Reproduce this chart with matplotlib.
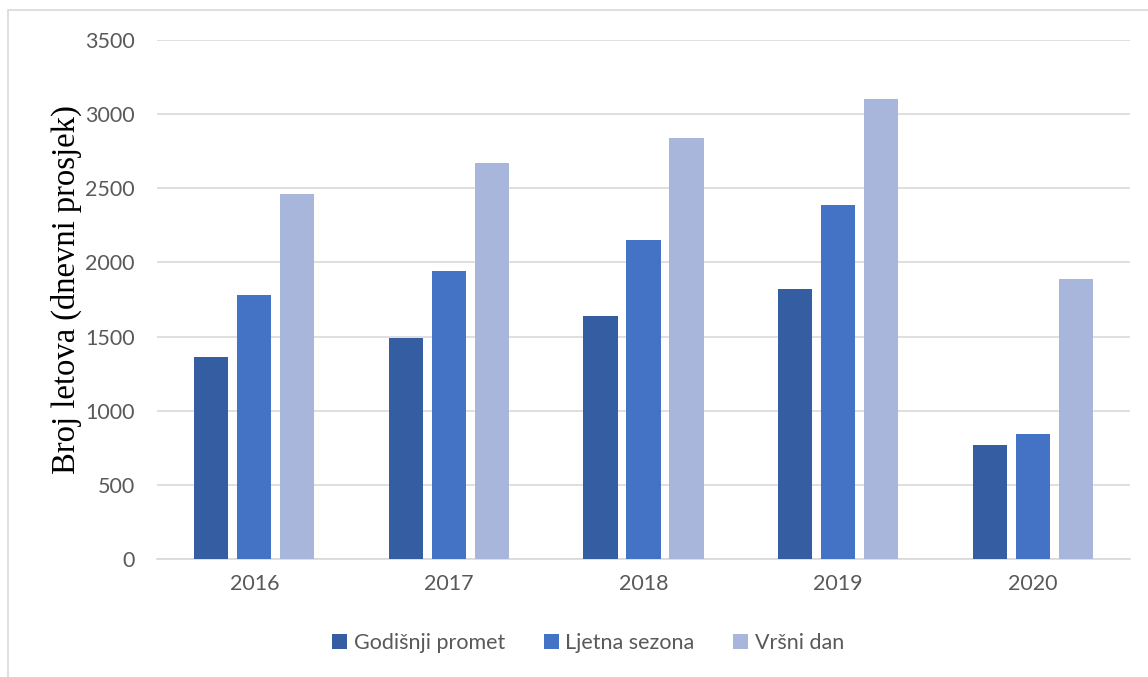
import matplotlib
matplotlib.use("Agg")
import matplotlib.pyplot as plt
import numpy as np
from matplotlib.patches import Rectangle

years = ["2016", "2017", "2018", "2019", "2020"]
godisnji = [1360, 1490, 1640, 1820, 770]
ljetna = [1780, 1940, 2150, 2385, 840]
vrsni = [2460, 2670, 2840, 3100, 1890]
series_names = ["Godišnji promet", "Ljetna sezona", "Vršni dan"]
colors = ["#355DA1", "#4472C4", "#A8B6DB"]

W, H = 1148, 677
fig = plt.figure(figsize=(W/100, H/100), dpi=100)
ax = fig.add_axes([157/W, 1-559/H, (1130-157)/W, (559-40)/H])

x = np.arange(len(years))
bw = 0.175
step = 0.221
for i, (vals, c, n) in enumerate(zip([godisnji, ljetna, vrsni], colors, series_names)):
    ax.bar(x + (i-1)*step, vals, width=bw, color=c, label=n, zorder=3)

ax.set_xlim(-0.5, len(years)-0.5)
ax.set_ylim(0, 3500)
ax.set_yticks(np.arange(0, 3501, 500))
ax.grid(axis='y', color='#D9D9D9', linewidth=1.2, zorder=0)
for s in ['top', 'right', 'left']:
    ax.spines[s].set_visible(False)
ax.spines['bottom'].set_color('#D9D9D9')
ax.spines['bottom'].set_linewidth(1.2)
ax.tick_params(axis='both', length=0, labelsize=15.5, labelcolor='#595959')
ax.tick_params(axis='y', pad=16)
ax.tick_params(axis='x', pad=11)
ax.set_xticks(x)
ax.set_xticklabels(years)
for lab in ax.get_xticklabels() + ax.get_yticklabels():
    lab.set_family('Lato')

fig.text(66/W, 1-290/H, "Broj letova (dnevni prosjek)", rotation=90, va='center', ha='center',
         family='Liberation Serif', fontsize=23.5, color='black')

leg = fig.legend(loc='center', bbox_to_anchor=(588/W, 1-643/H), ncol=3, frameon=False,
                 prop={'family': 'Lato', 'size': 15.5}, handlelength=0.7, handleheight=0.7,
                 handletextpad=0.3, columnspacing=1.8)
for t in leg.get_texts():
    t.set_color('#595959')

fig.patches.append(Rectangle((8/W, -0.1), 1.2, 1-10/H+0.1, transform=fig.transFigure,
                             fill=False, edgecolor='#D9D9D9', linewidth=1.2))

fig.savefig("out.png", dpi=100)
